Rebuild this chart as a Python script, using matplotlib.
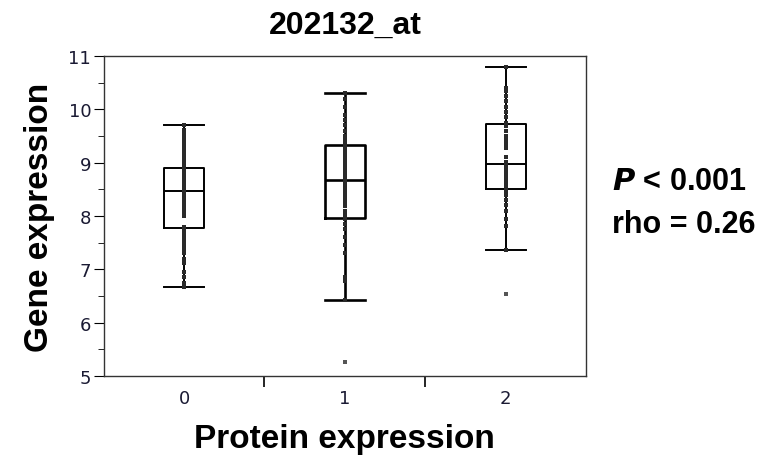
import matplotlib
matplotlib.use('Agg')
import matplotlib.pyplot as plt

categories = ['0', '1', '2']
whislo = [6.67, 6.43, 7.37]
q1 = [7.77, 7.97, 8.50]
med = [8.47, 8.67, 8.98]
q3 = [8.90, 9.33, 9.73]
whishi = [9.70, 10.30, 10.80]
fliers = [[], [5.27], [6.53]]

g0 = [9.7, 9.62, 9.55, 9.5, 9.44, 9.38, 9.33, 9.27, 9.2, 9.15, 9.08, 9.02, 8.97,
      8.92, 8.9, 8.87, 8.83, 8.8, 8.76, 8.72, 8.68, 8.64, 8.6, 8.56, 8.52, 8.48,
      8.44, 8.38, 8.33, 8.28, 8.22, 8.15, 8.08, 8.0, 7.8, 7.76, 7.7, 7.64, 7.57,
      7.5, 7.44, 7.36, 7.3, 7.2, 7.12, 6.95, 6.85, 6.75, 6.67]
g1 = [10.3, 10.2, 10.05, 9.9, 9.8, 9.7, 9.6, 9.5, 9.42, 9.35, 9.3, 9.25, 9.2,
      9.14, 9.08, 9.02, 8.95, 8.9, 8.82, 8.76, 8.7, 8.66, 8.6, 8.54, 8.48, 8.42,
      8.36, 8.3, 8.24, 8.18, 8.1, 8.04, 7.98, 7.94, 7.85, 7.75, 7.6, 7.45, 7.3,
      6.85, 6.78, 6.43]
g2 = [10.8, 10.4, 10.35, 10.25, 10.15, 10.05, 9.95, 9.85, 9.75, 9.72, 9.68, 9.6,
      9.5, 9.42, 9.35, 9.28, 9.1, 9.02, 8.97, 8.92, 8.86, 8.8, 8.74, 8.68, 8.62,
      8.56, 8.5, 8.46, 8.4, 8.3, 8.2, 8.1, 7.95, 7.82, 7.37]
groups = [g0, g1, g2]

fig = plt.figure(figsize=(7.68, 4.56), dpi=100)
ax = fig.add_axes([0.135, 0.173, 0.628, 0.702])

stats = []
for i in range(3):
    stats.append(dict(whislo=whislo[i], q1=q1[i], med=med[i], q3=q3[i],
                      whishi=whishi[i], fliers=[]))

lws = [1.4, 1.9, 1.4]
for i in range(3):
    ax.bxp([stats[i]], positions=[i], widths=0.25, showfliers=False,
           boxprops=dict(color='black', linewidth=lws[i]),
           medianprops=dict(color='black', linewidth=lws[i]),
           whiskerprops=dict(color='black', linewidth=lws[i]),
           capprops=dict(color='black', linewidth=lws[i]),
           capwidths=0.25, manage_ticks=False)

for i, g in enumerate(groups):
    ax.scatter([i] * len(g), g, s=5.5, marker='s', color='#2a2a2a', zorder=3, linewidths=0)
    if fliers[i]:
        ax.scatter([i] * len(fliers[i]), fliers[i], s=6, marker='s', color='#555555',
                   zorder=3, linewidths=0)

ax.set_xlim(-0.5, 2.5)
ax.set_ylim(5, 11)
ax.set_xticks([0, 1, 2])
ax.set_xticklabels(categories)
ax.set_xticks([0.5, 1.5], minor=True)
ax.tick_params(axis='x', which='major', length=0, pad=9, labelsize=13, labelcolor='#1a1a33')
ax.tick_params(axis='x', which='minor', length=8, width=1.2)
ax.set_yticks(range(5, 12))
ax.set_yticks([5.5, 6.5, 7.5, 8.5, 9.5, 10.5], minor=True)
ax.tick_params(axis='y', which='major', length=7, labelsize=13, labelcolor='#1a1a33', pad=2)
ax.tick_params(axis='y', which='minor', length=4)
for sp in ax.spines.values():
    sp.set_color('#333333')
    sp.set_linewidth(1.0)

bold = dict(family='Liberation Sans', weight='bold')
ax.set_title('202132_at', fontsize=23, pad=17, **bold)
ax.set_xlabel('Protein expression', fontsize=24, labelpad=12, **bold)
ax.set_ylabel('Gene expression', fontsize=24, labelpad=10, **bold)

fig.text(0.797, 0.583, r'$\mathbfit{P}$ < 0.001', fontsize=22, **bold)
fig.text(0.797, 0.49, 'rho = 0.26', fontsize=22, **bold)

fig.savefig('out.png', dpi=100)
